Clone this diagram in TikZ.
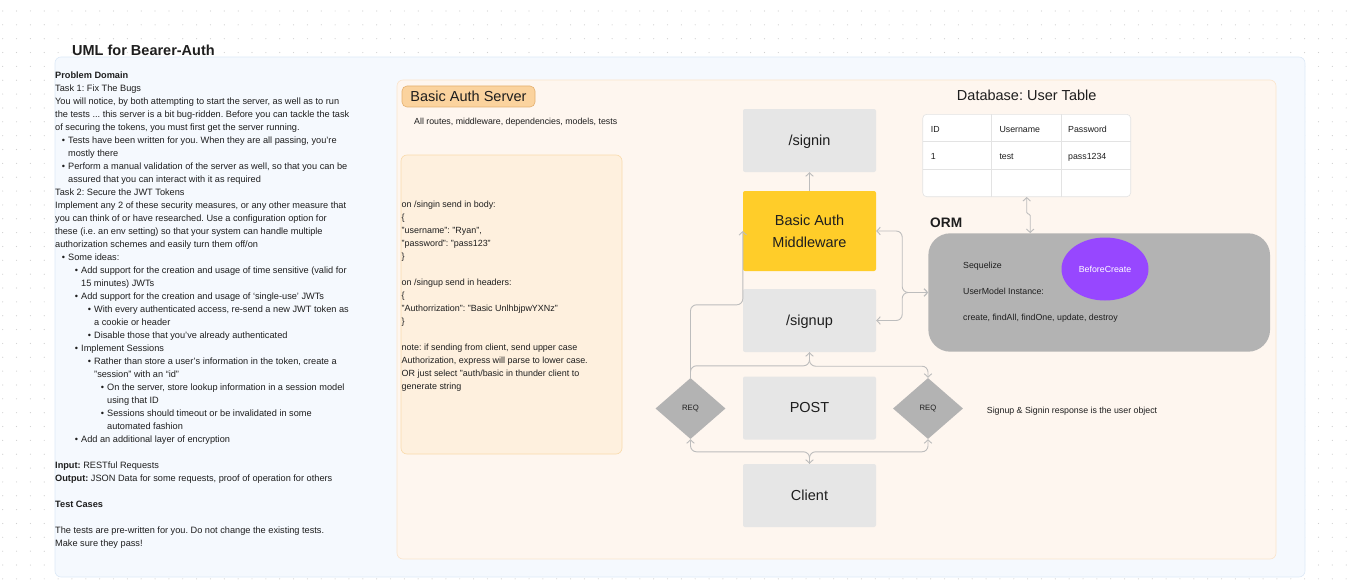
\documentclass[tikz,border=0pt]{standalone}
\usepackage{fontspec}
\setmainfont{Liberation Sans}
\usetikzlibrary{positioning,shapes.geometric,arrows.meta,calc}
\frenchspacing

\definecolor{ink}{HTML}{1E1E1E}
\definecolor{dotgray}{HTML}{CFCFCF}
\definecolor{bluepanel}{HTML}{F5F9FE}
\definecolor{blueline}{HTML}{DCE9F7}
\definecolor{srvpanel}{HTML}{FEF6EF}
\definecolor{srvline}{HTML}{FBE5CC}
\definecolor{notefill}{HTML}{FEF0DE}
\definecolor{noteline}{HTML}{F9DAAB}
\definecolor{labfill}{HTML}{FBD39E}
\definecolor{labline}{HTML}{E4B070}
\definecolor{boxgray}{HTML}{E6E6E6}
\definecolor{midyellow}{HTML}{FFCD29}
\definecolor{shapegray}{HTML}{B3B3B3}
\definecolor{hookpurple}{HTML}{9747FF}
\definecolor{linegray}{HTML}{BDBDBD}
\definecolor{tabline}{HTML}{E3E3E3}

% indents for the problem text
\newcommand{\idt}[1]{\hspace*{#1pt}}
\newcommand{\blt}[1]{\hspace*{#1pt}\llap{\textbullet\hspace{3pt}}}

\begin{document}
\begin{tikzpicture}[x=1pt, y=-1pt, >={Straight Barb[length=3.5pt,width=7.5pt]},
    txt/.style={text=ink, font=\fontsize{8.8}{13}\selectfont, inner sep=0},
    big/.style={text=ink, font=\fontsize{14.5}{17}\selectfont, inner sep=0},
    route/.style={big, fill=boxgray, rounded corners=2pt, minimum width=133pt,
        minimum height=63pt, text height=12.5pt, text depth=3pt},
    req/.style={diamond, fill=shapegray, minimum width=70pt, minimum height=61pt,
        aspect=1.15, inner sep=0, text=ink, font=\fontsize{7.7}{9}\selectfont},
    conn/.style={draw=linegray, line width=0.9pt, rounded corners=6pt}]
				\useasboundingbox (0,0) rectangle (1353,586);
				
				% Lưới chấm nền
				\foreach \i in {0,...,97}
				\foreach \j in {0,...,41}
				\fill[dotgray] (2.7+13.85*\i, 11+13.85*\j) circle (0.6pt);
				
				% Khung lớn
				\draw[fill=bluepanel, draw=blueline, line width=0.6pt, rounded corners=6pt] (55,57) rectangle (1305,577);
				\node[anchor=base west, text=ink, inner sep=0, font=\bfseries\fontsize{14.5}{17}\selectfont] (title) at (72,55.5) {UML for Bearer-Auth};
				
				% Problem domain
				\node[txt, anchor=base west, font=\fontsize{9.2}{13}\selectfont] (domain) at (55,78.3) {\parbox[t]{330pt}{\raggedright
					\textbf{Problem Domain}\\
					Task 1: Fix The Bugs\\
					You will notice, by both attempting to start the server, as well as to run\\
					the tests ... this server is a bit bug-ridden. Before you can tackle the task\\
					of securing the tokens, you must first get the server running.\\
					\blt{13}Tests have been written for you. When they are all passing, you're\\
					\idt{13}mostly there\\
					\blt{13}Perform a manual validation of the server as well, so that you can be\\
					\idt{13}assured that you can interact with it as required\\
					Task 2: Secure the JWT Tokens\\
					Implement any 2 of these security measures, or any other measure that\\
					you can think of or have researched. Use a configuration option for\\
					these (i.e. an env setting) so that your system can handle multiple\\
					authorization schemes and easily turn them off/on\\
					\blt{13}Some ideas:\\
					\blt{26}Add support for the creation and usage of time sensitive (valid for\\
					\idt{26}15 minutes) JWTs\\
					\blt{26}Add support for the creation and usage of `single-use' JWTs\\
					\blt{39}With every authenticated access, re-send a new JWT token as\\
					\idt{39}a cookie or header\\
					\blt{39}Disable those that you've already authenticated\\
					\blt{26}Implement Sessions\\
					\blt{39}Rather than store a user's information in the token, create a\\
					\idt{39}"session" with an “id”\\
					\blt{52}On the server, store lookup information in a session model\\
					\idt{52}using that ID\\
					\blt{52}Sessions should timeout or be invalidated in some\\
					\idt{52}automated fashion\\
					\blt{26}Add an additional layer of encryption\\[13pt]
					\textbf{Input:} RESTful Requests\\
					\textbf{Output:} JSON Data for some requests, proof of operation for others\\[13pt]
					\textbf{Test Cases}\\[13pt]
					The tests are pre-written for you. Do not change the existing tests.\\
					Make sure they pass!}};
				
				% Basic Auth Server
				\draw[fill=srvpanel, draw=srvline, line width=0.6pt, rounded corners=6pt] (397,80) rectangle (1276,559);
				\node[big, fill=labfill, draw=labline, line width=0.6pt, rounded corners=5pt, minimum width=133pt, minimum height=21pt] (srv) at (468.5,96.5) {Basic Auth Server};
				\node[txt, anchor=base west] (srvsub) at (414,124.7) {All routes, middleware, dependencies, models, tests};
				
				% Ghi chú request
				\draw[fill=notefill, draw=noteline, line width=0.6pt, rounded corners=6pt] (401,155) rectangle (622,454);
				\node[txt, anchor=base west, font=\fontsize{8.95}{13}\selectfont] (note) at (401.5,207.5) {\parbox[t]{220pt}{\raggedright
					on /singin send in body:\\
					\{\\
					"username": "Ryan",\\
					"password": "pass123"\\
					\}\\[13pt]
					on /singup send in headers:\\
					\{\\
					"Authorrization": "Basic UnlhbjpwYXNz"\\
					\}\\[13pt]
					note: if sending from client, send upper case\\
					Authorization, express will parse to lower case.\\
					OR just select "auth/basic in thunder client to\\
					generate string}};
				
				% Các route
				\node[route] (signin) at (809.5,140.5) {/signin};
				\node[route, fill=midyellow, minimum height=80pt, align=center, text height=, text depth=, font=\fontsize{14.5}{22}\selectfont] (mid) at (809.5,231) {Basic Auth\\Middleware};
				\node[route] (signup) at (809.5,320.5) {/signup};
				\node[route] (post) at (809.5,408) {POST};
				\node[route] (client) at (809.5,495.5) {Client};
				\node[req] (reqL) at (690.5,408.5) {REQ};
				\node[req] (reqR) at (928,408.5) {REQ};
				\node[txt, anchor=base west] (resp) at (986.7,413.8) {Signup \& Signin response is the user object};
				
				% Database
				\node[big, anchor=base] (dbtitle) at (1026.7,100.7) {Database: User Table};
				\node[draw=tabline, fill=white, line width=0.6pt, rounded corners=4pt, minimum width=208pt, minimum height=82.4pt, inner sep=0] (tab) at (1026.7,155.5) {};
				\draw[tabline, line width=0.6pt] (991.7,114.3) -- (991.7,196.7) (1061.7,114.3) -- (1061.7,196.7)
					(922.7,141.7) -- (1130.7,141.7) (922.7,169.3) -- (1130.7,169.3);
				\node[txt, anchor=base west] (hid) at (930.7,132) {ID};
				\node[txt, anchor=base west] (huser) at (999.3,132) {Username};
				\node[txt, anchor=base west] (hpass) at (1068,132) {Password};
				\node[txt, anchor=base west] (vid) at (930.7,159) {1};
				\node[txt, anchor=base west] (vuser) at (999.3,159) {test};
				\node[txt, anchor=base west] (vpass) at (1068,159) {pass1234};
				
				% ORM
				\node[anchor=base west, text=ink, inner sep=0, font=\bfseries\fontsize{13.7}{16}\selectfont] (ormtitle) at (930,227.6) {ORM};
				\node[fill=shapegray, rounded corners=22pt, minimum width=341.7pt, minimum height=118.4pt, inner sep=0] (orm) at (1099.2,292.5) {};
				\node[txt, anchor=base west] (seq) at (963,268.8) {Sequelize};
				\node[txt, anchor=base west] (inst) at (963,294.8) {UserModel Instance:};
				\node[txt, anchor=base west] (crud) at (963,320.8) {create, findAll, findOne, update, destroy};
				\node[ellipse, fill=hookpurple, minimum width=87pt, minimum height=63pt, inner sep=0, text=white, font=\fontsize{8.8}{11}\selectfont] (hook) at (1105,269) {BeforeCreate};
				
				% Mũi tên nối
				\draw[conn, ->] (mid.north) -- (signin.south);
				\draw[conn, ->] (reqL.north) -- ++(0,-73) -| (mid.west);
				\draw[conn, ->] (reqL.north) -- ++(0,-12) -| (signup.south);
				\draw[conn, ->] (signup.south) -- ++(0,14) -| (reqR.north);
				\draw[conn, ->] (client.north) -- ++(0,-12) -| (reqL.south);
				\draw[conn, <->] (client.north) -- ++(0,-12) -| (reqR.south);
				\draw[conn, <->] (mid.east) -- ++(26,0) |- (orm.west);
				\draw[conn, <->] (signup.east) -- ++(26,0) |- (orm.west);
				\draw[conn, <->, rounded corners=1.5pt] (tab.south) -- ++(0,17) -| ($(tab.south |- orm.north)+(3.5,0)$);
			\end{tikzpicture}
\end{document}
